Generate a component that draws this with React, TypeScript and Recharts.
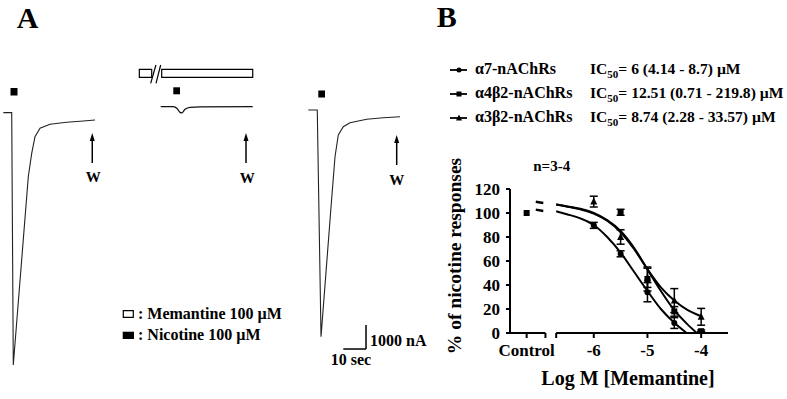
import React from "react";
import {
  ComposedChart,
  Line,
  Scatter,
  XAxis,
  YAxis,
  ErrorBar,
  ReferenceLine,
  ReferenceArea,
} from "recharts";

const FONT = '"Liberation Serif", "Times New Roman", serif';

// ---------- panel A: oocyte current traces (time in s, current in nA) ----------
const controlTrace = [
  { t: 1.45, i: 0 },
  { t: 5.15, i: 0 },
  { t: 5.85, i: -10530 },
  { t: 12.45, i: -2674 },
  { t: 13.95, i: -1697 },
  { t: 15.4, i: -1004 },
  { t: 17.6, i: -654 },
  { t: 22.0, i: -487 },
  { t: 29.35, i: -404 },
  { t: 36.65, i: -349 },
  { t: 41.8, i: -307 },
];

const memantineTrace = [
  { t: 70.7, i: 247 },
  { t: 76.25, i: 247 },
  { t: 77.9, i: 172 },
  { t: 79.2, i: 14 },
  { t: 80.1, i: -7 },
  { t: 81.4, i: 139 },
  { t: 83.6, i: 223 },
  { t: 88.0, i: 239 },
  { t: 111.2, i: 247 },
];

const recoveryTrace = [
  { t: 135.65, i: 110 },
  { t: 139.6, i: 110 },
  { t: 141.25, i: -9350 },
  { t: 145.95, i: -3575 },
  { t: 147.4, i: -1839 },
  { t: 148.85, i: -934 },
  { t: 151.05, i: -587 },
  { t: 154.0, i: -420 },
  { t: 161.35, i: -278 },
  { t: 168.65, i: -212 },
  { t: 176.0, i: -170 },
];

// nicotine application marks [t1, t2, i1, i2]
const nicotineMarks = [
  [4.62, 7.7, 715, 1028],
  [76.25, 79.2, 765, 1057],
  [140.05, 143.0, 631, 924],
];
// memantine bar pieces
const memantineBars = [
  [61.3, 66.75, 1474, 1808],
  [71.15, 111.2, 1474, 1808],
];
const washArrows = [
  { t: 40.6, top: -850, bottom: -2102 },
  { t: 108.24, top: -850, bottom: -2102 },
  { t: 174.55, top: -934, bottom: -2185 },
];

// ---------- panel B: concentration-response ----------
const doseTicks = [-7.25, -6.9, -6.7, -6, -5, -4];
const responseTicks = [0, 20, 40, 60, 80, 100, 120];

const a7Points = [
  { x: -6, y: 89.7, err: 2.5 },
  { x: -5.5, y: 66, err: 2.5 },
  { x: -5, y: 34, err: 8 },
  { x: -4.5, y: 8.3, err: 4.5 },
  { x: -4, y: 0.5, err: 0.5 },
];
const a4b2Points = [
  { x: -7.25, y: 100, err: 0 },
  { x: -5.5, y: 100.6, err: 2.5 },
  { x: -5, y: 45, err: 10 },
  { x: -4.5, y: 18, err: 4 },
  { x: -4, y: 1.5, err: 1 },
];
const a3b2Points = [
  { x: -6, y: 109.5, err: 4.5 },
  { x: -5.5, y: 80, err: 6 },
  { x: -5, y: 46, err: 8 },
  { x: -4.5, y: 27, err: 10 },
  { x: -4, y: 13.5, err: 7 },
];

const a7Fit = [
  { x: -6.7, y: 101.5 },
  { x: -6.5, y: 99 },
  { x: -6.25, y: 95.5 },
  { x: -6, y: 90 },
  { x: -5.75, y: 80 },
  { x: -5.5, y: 67 },
  { x: -5.25, y: 51 },
  { x: -5, y: 35 },
  { x: -4.75, y: 20 },
  { x: -4.5, y: 8.5 },
  { x: -4.27, y: 0 },
];
const a4b2Fit = [
  { x: -6.7, y: 107 },
  { x: -6.5, y: 105.5 },
  { x: -6.25, y: 103.5 },
  { x: -6, y: 100 },
  { x: -5.75, y: 94 },
  { x: -5.5, y: 85 },
  { x: -5.25, y: 71 },
  { x: -5, y: 53 },
  { x: -4.75, y: 35 },
  { x: -4.5, y: 19 },
  { x: -4.25, y: 7 },
  { x: -4.08, y: 0 },
];
const a3b2Fit = [
  { x: -6.7, y: 107 },
  { x: -6.5, y: 105.5 },
  { x: -6.25, y: 103 },
  { x: -6, y: 99.5 },
  { x: -5.75, y: 93.5 },
  { x: -5.5, y: 84 },
  { x: -5.25, y: 70 },
  { x: -5, y: 53 },
  { x: -4.75, y: 38 },
  { x: -4.5, y: 27 },
  { x: -4.25, y: 19 },
  { x: -4, y: 14 },
];
// short curve stubs left of the axis break
const stubTop = [
  { x: -7.08, y: 109.4 },
  { x: -6.94, y: 108.3 },
];
const stubBottom = [
  { x: -7.08, y: 102.8 },
  { x: -6.94, y: 101.7 },
];

const legendRows = [
  { name: "α7-nAChRs", ic: "= 6 (4.14 - 8.7) µM", mark: "circle" },
  { name: "α4β2-nAChRs", ic: "= 12.51 (0.71 - 219.8) µM", mark: "square" },
  { name: "α3β2-nAChRs", ic: "= 8.74 (2.28 - 33.57) µM", mark: "triangle" },
];

const formatDose = (v: number) => {
  if (v === -7.25) return "Control";
  if (v === -6 || v === -5 || v === -4) return String(v);
  return "";
};

const circleShape = (p: any) => <circle cx={p.cx} cy={p.cy} r={3} fill="#000" />;
const squareShape = (p: any) => (
  <rect x={p.cx - 3} y={p.cy - 3} width={6} height={6} fill="#000" />
);
const triangleShape = (p: any) => (
  <polygon
    points={`${p.cx},${p.cy - 4} ${p.cx - 3.5},${p.cy + 3} ${p.cx + 3.5},${p.cy + 3}`}
    fill="#000"
  />
);
const arrowHead = (p: any) => (
  <polygon
    points={`${p.cx},${p.cy} ${p.cx - 2.5},${p.cy + 8} ${p.cx + 2.5},${p.cy + 8}`}
    fill="#000"
  />
);

const tickStyle = { fontFamily: FONT, fontWeight: 700, fontSize: 17, fill: "#000" };
const txt = { fontFamily: FONT, fontWeight: 700, fill: "#000" } as const;

function marker(kind: string, cx: number, cy: number) {
  if (kind === "circle") return <circle cx={cx} cy={cy} r={2.5} fill="#000" />;
  if (kind === "square") return <rect x={cx - 2.5} y={cy - 2.5} width={5} height={5} fill="#000" />;
  return (
    <polygon points={`${cx},${cy - 3.5} ${cx - 3},${cy + 2.5} ${cx + 3},${cy + 2.5}`} fill="#000" />
  );
}

export default function App() {
  return (
    <div
      style={{
        position: "absolute",
        left: 0,
        top: 0,
        width: 787,
        height: 399,
        background: "#fff",
        overflow: "hidden",
      }}
    >
      {/* Panel A */}
      <div style={{ position: "absolute", left: 0, top: 0 }}>
        <ComposedChart width={420} height={399} margin={{ top: 0, right: 0, bottom: 0, left: 0 }}>
          <XAxis type="number" dataKey="t" domain={[0, 184.8]} allowDataOverflow hide />
          <YAxis type="number" dataKey="i" domain={[-11950, 4700]} allowDataOverflow hide />
          {memantineBars.map((b, k) => (
            <ReferenceArea
              key={"m" + k}
              x1={b[0]}
              x2={b[1]}
              y1={b[2]}
              y2={b[3]}
              fill="#fff"
              fillOpacity={1}
              stroke="#000"
              strokeWidth={1.2}
            />
          ))}
          <ReferenceLine segment={[{ x: 66.3, y: 1224 }, { x: 68.6, y: 1988 }]} stroke="#000" strokeWidth={1.2} />
          <ReferenceLine segment={[{ x: 68.64, y: 1224 }, { x: 70.7, y: 1988 }]} stroke="#000" strokeWidth={1.2} />
          {nicotineMarks.map((b, k) => (
            <ReferenceArea
              key={"n" + k}
              x1={b[0]}
              x2={b[1]}
              y1={b[2]}
              y2={b[3]}
              fill="#000"
              fillOpacity={1}
            />
          ))}
          {washArrows.map((a, k) => (
            <ReferenceLine
              key={"w" + k}
              segment={[{ x: a.t, y: a.top - 200 }, { x: a.t, y: a.bottom }]}
              stroke="#000"
              strokeWidth={1.5}
            />
          ))}
          <Scatter
            data={washArrows.map((a) => ({ t: a.t, i: a.top }))}
            dataKey="i"
            shape={arrowHead}
            isAnimationActive={false}
          />
          {/* legend boxes */}
          <ReferenceArea x1={54.25} x2={58.65} y1={-8541} y2={-8265} fill="#fff" fillOpacity={1} stroke="#000" strokeWidth={1.2} />
          <ReferenceArea x1={53.99} x2={58.96} y1={-9446} y2={-9142} fill="#000" fillOpacity={1} />
          {/* scale bar */}
          <ReferenceLine segment={[{ x: 151.05, y: -9864 }, { x: 161.05, y: -9864 }]} stroke="#000" strokeWidth={1.5} />
          <ReferenceLine segment={[{ x: 161.05, y: -9864 }, { x: 161.05, y: -8864 }]} stroke="#000" strokeWidth={1.5} />
          <Line data={controlTrace} dataKey="i" type="linear" stroke="#222" strokeWidth={1.1} dot={false} activeDot={false} isAnimationActive={false} />
          <Line data={memantineTrace} dataKey="i" type="monotone" stroke="#111" strokeWidth={1.3} dot={false} activeDot={false} isAnimationActive={false} />
          <Line data={recoveryTrace} dataKey="i" type="linear" stroke="#222" strokeWidth={1.1} dot={false} activeDot={false} isAnimationActive={false} />
        </ComposedChart>
      </div>

      {/* Panel B */}
      <div style={{ position: "absolute", left: 400, top: 140 }}>
        <ComposedChart width={387} height={259} margin={{ top: 49, right: 59, bottom: 0, left: 0 }}>
          <XAxis
            type="number"
            dataKey="x"
            domain={[-7.56, -3.5]}
            allowDataOverflow
            ticks={doseTicks}
            interval={0}
            tickFormatter={formatDose}
            axisLine={false}
            tickLine={{ stroke: "#000", strokeWidth: 2 }}
            tickSize={5}
            tickMargin={6}
            tick={tickStyle}
            height={66}
          />
          <YAxis
            type="number"
            dataKey="y"
            domain={[0, 120]}
            allowDataOverflow
            ticks={responseTicks}
            interval={0}
            axisLine={{ stroke: "#000", strokeWidth: 2 }}
            tickLine={{ stroke: "#000", strokeWidth: 2 }}
            tickSize={4}
            tickMargin={6}
            tick={tickStyle}
            width={110}
          />
          <ReferenceLine segment={[{ x: -7.56, y: 0 }, { x: -6.9, y: 0 }]} stroke="#000" strokeWidth={2} />
          <ReferenceLine segment={[{ x: -6.7, y: 0 }, { x: -3.5, y: 0 }]} stroke="#000" strokeWidth={2} />
          <Line data={stubTop} dataKey="y" type="linear" stroke="#000" strokeWidth={2.5} dot={false} activeDot={false} isAnimationActive={false} />
          <Line data={stubBottom} dataKey="y" type="linear" stroke="#000" strokeWidth={2.5} dot={false} activeDot={false} isAnimationActive={false} />
          <Line data={a7Fit} dataKey="y" type="monotone" stroke="#000" strokeWidth={2} dot={false} activeDot={false} isAnimationActive={false} />
          <Line data={a4b2Fit} dataKey="y" type="monotone" stroke="#000" strokeWidth={2} dot={false} activeDot={false} isAnimationActive={false} />
          <Line data={a3b2Fit} dataKey="y" type="monotone" stroke="#000" strokeWidth={2} dot={false} activeDot={false} isAnimationActive={false} />
          <Scatter data={a7Points} dataKey="y" shape={circleShape} isAnimationActive={false}>
            <ErrorBar dataKey="err" direction="y" width={4} stroke="#000" strokeWidth={1.5} />
          </Scatter>
          <Scatter data={a4b2Points} dataKey="y" shape={squareShape} isAnimationActive={false}>
            <ErrorBar dataKey="err" direction="y" width={4} stroke="#000" strokeWidth={1.5} />
          </Scatter>
          <Scatter data={a3b2Points} dataKey="y" shape={triangleShape} isAnimationActive={false}>
            <ErrorBar dataKey="err" direction="y" width={4} stroke="#000" strokeWidth={1.5} />
          </Scatter>
        </ComposedChart>
      </div>

      {/* text layer */}
      <svg
        width={787}
        height={399}
        style={{ position: "absolute", left: 0, top: 0, pointerEvents: "none" }}
      >
        <text x={16.7} y={28.3} fontSize={30} {...txt}>A</text>
        <text x={436.7} y={26.7} fontSize={30} {...txt}>B</text>
        <text x={93.3} y={182} fontSize={15} textAnchor="middle" {...txt}>W</text>
        <text x={247.3} y={183} fontSize={15} textAnchor="middle" {...txt}>W</text>
        <text x={396.7} y={184.5} fontSize={15} textAnchor="middle" {...txt}>W</text>
        <text x={138} y={319} fontSize={16} {...txt}>: Memantine 100 µM</text>
        <text x={138} y={340} fontSize={16} {...txt}>: Nicotine 100 µM</text>
        <text x={370} y={346} fontSize={16} {...txt}>1000 nA</text>
        <text x={330.7} y={365} fontSize={16} {...txt}>10 sec</text>

        {legendRows.map((r, k) => {
          const base = 74 + k * 24;
          const cy = base - 4;
          return (
            <g key={r.name}>
              <line x1={450} x2={467} y1={cy} y2={cy} stroke="#000" strokeWidth={1.8} />
              {marker(r.mark, 459, cy)}
              <text x={475} y={base} fontSize={16} {...txt}>{r.name}</text>
              <text x={590} y={base} fontSize={15.6} {...txt}>
                IC<tspan fontSize={11} dy={4}>50</tspan>
                <tspan dy={-4}>{r.ic}</tspan>
              </text>
            </g>
          );
        })}

        <text x={551.7} y={170.7} fontSize={15} textAnchor="middle" {...txt}>n=3-4</text>
        <text
          transform="translate(461,256) rotate(-90)"
          x={0}
          y={0}
          fontSize={19.5}
          textAnchor="middle"
          {...txt}
        >
          % of nicotine responses
        </text>
        <text x={628} y={385} fontSize={20} textAnchor="middle" {...txt}>Log M [Memantine]</text>
      </svg>
    </div>
  );
}
